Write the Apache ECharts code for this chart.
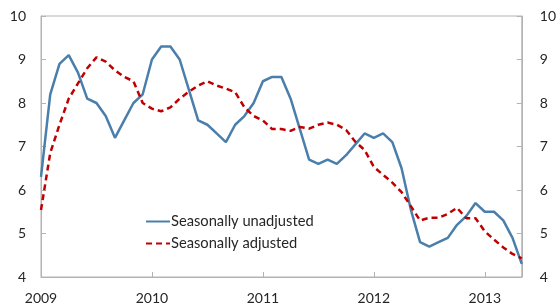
<!DOCTYPE html>
<html>
<head>
<meta charset="utf-8">
<script src="https://cdn.jsdelivr.net/npm/echarts@6/dist/echarts.min.js"></script>
<style>html,body{margin:0;padding:0;background:#fff;}#c{width:559px;height:307px;}</style>
</head>
<body>
<div id="c"></div>
<script>
// Monthly values, Jan 2009 .. May 2013 (index 0..52)
const yearLabels = ['2009', '2010', '2011', '2012', '2013'];
const unadjusted = [6.3, 8.2, 8.9, 9.1, 8.7, 8.1, 8.0, 7.7, 7.2, 7.6, 8.0, 8.2,
  9.0, 9.3, 9.3, 9.0, 8.3, 7.6, 7.5, 7.3, 7.1, 7.5, 7.7, 8.0,
  8.5, 8.6, 8.6, 8.1, 7.4, 6.7, 6.6, 6.7, 6.6, 6.8, 7.05, 7.3,
  7.2, 7.3, 7.1, 6.5, 5.55, 4.8, 4.7, 4.8, 4.9, 5.2, 5.4, 5.7,
  5.5, 5.5, 5.3, 4.9, 4.3];
const adjusted = [5.54, 6.85, 7.5, 8.1, 8.45, 8.8, 9.05, 8.95, 8.75, 8.6, 8.5, 8.0,
  7.87, 7.81, 7.9, 8.1, 8.26, 8.4, 8.5, 8.4, 8.33, 8.25, 7.9, 7.7,
  7.6, 7.4, 7.4, 7.36, 7.45, 7.41, 7.5, 7.55, 7.5, 7.38, 7.11, 6.92,
  6.53, 6.35, 6.17, 5.95, 5.63, 5.3, 5.36, 5.36, 5.45, 5.59, 5.35, 5.35,
  5.05, 4.86, 4.68, 4.53, 4.43];
const seriesNames = ['Seasonally unadjusted', 'Seasonally adjusted'];

const toPairs = arr => arr.map((v, i) => [i, v]);
const axisCol = '#b3b3b3';
const txtCol = '#262626';
const font = 'Lato';

const chart = echarts.init(document.getElementById('c'), null, {renderer: 'canvas'});
chart.setOption({
  animation: false,
  backgroundColor: '#fff',
  grid: {left: 41, right: 24, top: 16, bottom: 30, show: true, borderColor: axisCol, borderWidth: 1, backgroundColor: 'transparent'},
  legend: {
    orient: 'vertical', left: 140, top: 209, itemWidth: 24, itemHeight: 14, itemGap: 7,
    itemStyle: {opacity: 0},
    textStyle: {fontFamily: font, fontSize: 14.7, color: txtCol, padding: [0, 0, 0, -4]},
    data: seriesNames
  },
  xAxis: {
    type: 'value', min: 0, max: 52, interval: 12,
    axisLine: {show: true, lineStyle: {color: axisCol}},
    axisTick: {show: true, inside: true, length: 5, lineStyle: {color: axisCol}},
    splitLine: {show: false},
    axisLabel: {fontFamily: font, fontSize: 14, color: txtCol, margin: 14,
      formatter: v => (v % 12 === 0 ? yearLabels[v / 12] : '')}
  },
  yAxis: [
    {type: 'value', min: 4, max: 10, interval: 1, position: 'left',
      axisLine: {show: true, lineStyle: {color: axisCol}},
      axisTick: {show: true, inside: true, length: 5, lineStyle: {color: axisCol}},
      splitLine: {show: false},
      axisLabel: {fontFamily: font, fontSize: 14, color: txtCol, margin: 15}},
    {type: 'value', min: 4, max: 10, interval: 1, position: 'right',
      axisLine: {show: true, lineStyle: {color: axisCol}},
      axisTick: {show: true, inside: true, length: 5, lineStyle: {color: axisCol}},
      splitLine: {show: false},
      axisLabel: {fontFamily: font, fontSize: 14, color: txtCol, margin: 18}}
  ],
  series: [
    {name: seriesNames[0], type: 'line', data: toPairs(unadjusted), symbol: 'none',
      lineStyle: {color: '#4a7eab', width: 2.5}, itemStyle: {color: '#4a7eab'}},
    {name: seriesNames[1], type: 'line', data: toPairs(adjusted), symbol: 'none',
      lineStyle: {color: '#c00000', width: 2.5, type: [6, 4]}, itemStyle: {color: '#c00000'}}
  ]
});
</script>
</body>
</html>
